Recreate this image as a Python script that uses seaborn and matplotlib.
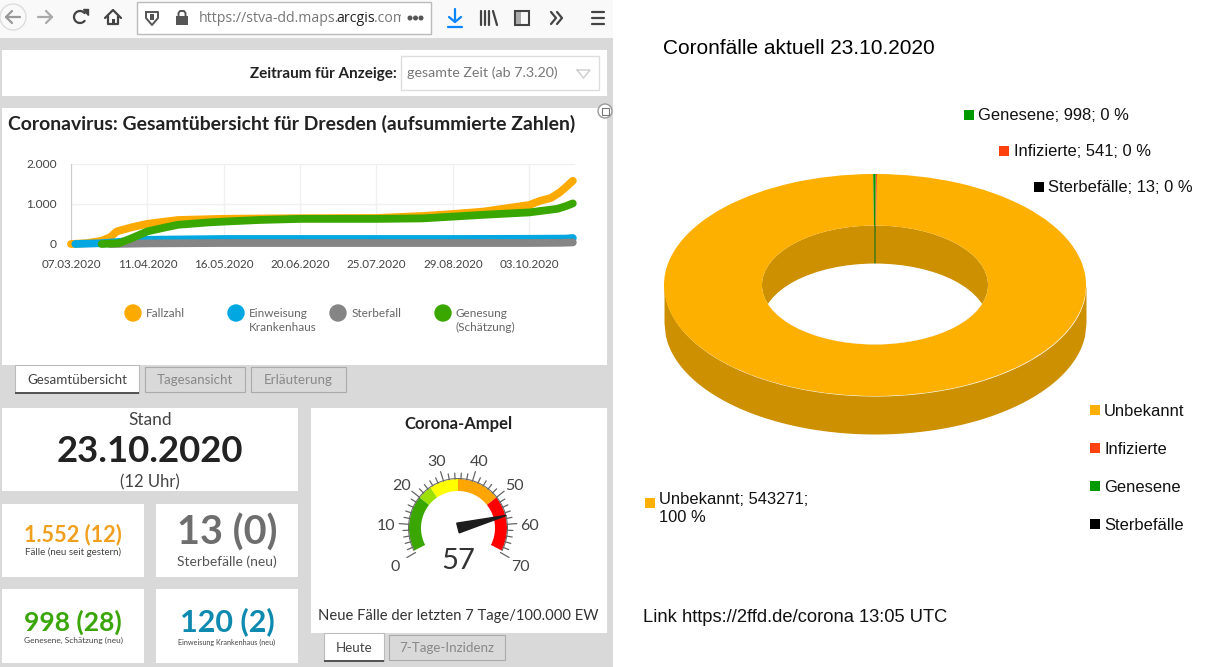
"""Screenshot of the Dresden corona dashboard next to a 3D donut of the case split."""

import numpy as np
import pandas as pd
import matplotlib.pyplot as plt
from matplotlib.patches import Circle, Ellipse, Polygon, Rectangle
import seaborn as sns

WIDTH, HEIGHT = 1209, 667

# line chart
FALL_DATES = ["2020-03-07", "2020-03-14", "2020-03-21", "2020-03-25", "2020-03-28", "2020-04-04",
              "2020-04-11", "2020-04-25", "2020-05-16", "2020-06-20", "2020-07-25", "2020-08-15",
              "2020-08-29", "2020-09-12", "2020-10-03", "2020-10-08", "2020-10-13", "2020-10-17",
              "2020-10-20", "2020-10-23"]
FALL_VALUES = [0, 20, 80, 170, 315, 420, 505, 600, 630, 645, 650, 700, 750, 810, 975, 1080, 1150, 1290, 1430, 1580]
EINWEISUNG_DATES = ["2020-03-09", "2020-03-21", "2020-04-11", "2020-05-16", "2020-08-29", "2020-10-03",
                    "2020-10-20", "2020-10-23"]
EINWEISUNG_VALUES = [0, 20, 105, 125, 125, 130, 135, 150]
STERBE_DATES = ["2020-03-25", "2020-04-11", "2020-05-16", "2020-08-29", "2020-10-03", "2020-10-18", "2020-10-23"]
STERBE_VALUES = [0, 15, 25, 25, 25, 30, 40]
GENESUNG_DATES = ["2020-03-21", "2020-03-29", "2020-04-04", "2020-04-11", "2020-04-18", "2020-04-25",
                  "2020-05-09", "2020-05-16", "2020-06-01", "2020-06-20", "2020-07-25", "2020-08-15",
                  "2020-08-29", "2020-09-12", "2020-10-03", "2020-10-16", "2020-10-20", "2020-10-23"]
GENESUNG_VALUES = [0, 20, 150, 315, 400, 480, 540, 560, 600, 628, 628, 640, 685, 730, 790, 880, 950, 1015]
DATE_TICKS = ["2020-03-07", "2020-04-11", "2020-05-16", "2020-06-20", "2020-07-25", "2020-08-29", "2020-10-03"]
Y_TICKS = [0, 1000, 2000]
Y_TICK_LABELS = ["0", "1.000", "2.000"]

# gauge
GAUGE_STOPS = [0, 20, 25, 35, 50, 70]
GAUGE_COLORS = ["#3aa600", "#9be000", "#ffff00", "#ffa500", "#ff0000"]
GAUGE_LABELS = [0, 10, 20, 30, 40, 50, 60, 70]
GAUGE_VALUE = 57

# donut
DONUT_NAMES = ["Unbekannt", "Infizierte", "Genesene", "Sterbefälle"]
DONUT_VALUES = [543271, 541, 998, 13]
DONUT_COLORS = ["#fdb000", "#ff420e", "#009900", "#000000"]

PAGE_GREY = "#d9d9d9"
DARK = "#333333"
UI_FONT = "Lato"
CHART_FONT = "Liberation Sans"


def box(ax, x0, y0, x1, y1, color="white", edge="none", lw=1.0, zorder=1):
    ax.add_patch(Rectangle((x0, y0), x1 - x0, y1 - y0, facecolor=color, edgecolor=edge, linewidth=lw, zorder=zorder))


def label(ax, x, y, text, size=10, color=DARK, ha="left", weight="normal", family=UI_FONT, **kwargs):
    return ax.text(x, y, text, fontsize=size, color=color, ha=ha, va="center",
                   fontweight=weight, family=family, zorder=5, **kwargs)


def stroke(ax, xs, ys, color="#444444", lw=1.6):
    ax.plot(xs, ys, color=color, linewidth=lw, solid_capstyle="round", solid_joinstyle="round", zorder=4)


def draw_toolbar(ax):
    box(ax, 0, 0, 613, 38, color="#f9f9fa")
    ax.add_patch(Circle((13, 17), 13, facecolor="#f9f9fa", edgecolor="#dddddd", linewidth=1, zorder=2))
    stroke(ax, [20, 6], [17, 17], "#999999")
    stroke(ax, [12, 6, 12], [11, 17, 23], "#999999")
    stroke(ax, [38, 52], [17, 17], "#aaaaaa")
    stroke(ax, [46, 52, 46], [11, 17, 23], "#aaaaaa")
    # reload
    angles = np.radians(np.linspace(40, 320, 30))
    stroke(ax, 80 + 6 * np.cos(angles), 17 - 6 * np.sin(angles))
    ax.add_patch(Polygon([[83, 9], [88, 9], [88, 15]], color="#444444", zorder=4))
    # home
    stroke(ax, [105, 113, 121], [18, 10, 18])
    stroke(ax, [108, 108, 118, 118], [16, 24, 24, 16])
    box(ax, 112, 19, 115, 24, color="#444444", zorder=4)

    box(ax, 137, 2, 431, 34, color="white", edge="#bbbbbb", zorder=2)
    stroke(ax, [146, 158, 158, 152, 146, 146], [12, 12, 18, 25, 18, 12], "#555555", 1.4)
    box(ax, 150, 14, 154, 20, color="#555555", zorder=4)
    box(ax, 166.5, 6, 167, 29, color="#dddddd", zorder=3)
    box(ax, 176, 16, 188, 25, color="#555555", zorder=4)
    stroke(ax, [178.5, 178.5, 180, 184, 185.5, 185.5], [16, 13, 11, 11, 13, 16], "#555555", 1.4)

    label(ax, 199, 18, "https://stva-dd.maps.", 10.2, "#777777", family="Open Sans")
    label(ax, 336, 18, "arcgis", 10.2, "#222222", family="Open Sans")
    tail = label(ax, 374, 18, ".com", 10.2, "#777777", family="Open Sans")
    tail.set_clip_on(True)
    tail.set_clip_path(Rectangle((374, 0), 27, 38, transform=ax.transData))
    for x in [410, 415.5, 421]:
        ax.add_patch(Circle((x, 18), 1.8, color="#555555", zorder=4))

    stroke(ax, [455, 455], [9, 22], "#0a84ff")
    stroke(ax, [449, 455, 461], [17, 22, 17], "#0a84ff")
    stroke(ax, [448, 462], [27, 27], "#0a84ff")
    for x in [481, 485, 489]:
        stroke(ax, [x, x], [11, 25])
    stroke(ax, [493, 497], [11, 25])
    ax.add_patch(Rectangle((515, 11), 14, 14, fill=False, edgecolor="#444444", linewidth=1.5, zorder=4))
    box(ax, 516, 12, 521, 24, color="#aaaaaa", zorder=4)
    stroke(ax, [551, 556, 551], [12, 18, 24])
    stroke(ax, [557, 562, 557], [12, 18, 24])
    box(ax, 575.5, 0, 576, 36, color="#e2e2e2", zorder=3)
    for y in [12, 18, 24]:
        stroke(ax, [592, 604], [y, y])


def draw_panels(ax):
    box(ax, 0, 38, 613, HEIGHT, color=PAGE_GREY, zorder=0)
    panels = [(2, 50, 607, 96), (2, 108, 607, 365), (2, 408, 298, 491), (2, 504, 144, 577),
              (156, 504, 298, 577), (2, 589, 144, 663), (156, 589, 298, 663), (311, 408, 607, 633)]
    for x0, y0, x1, y1 in panels:
        box(ax, x0, y0, x1, y1)

    label(ax, 397, 74, "Zeitraum für Anzeige:", 11, "#222222", ha="right", weight="bold")
    box(ax, 401, 56, 599, 90, edge="#dddddd", zorder=2)
    label(ax, 407, 73, "gesamte Zeit (ab 7.3.20)", 10.3, "#777777")
    ax.plot([577, 590, 583.5, 577], [70, 70, 78, 70], color="#cccccc", linewidth=1, zorder=4)
    # expand button in the panel corner
    ax.add_patch(Circle((605, 111), 7, facecolor="white", edgecolor="#999999", linewidth=1, zorder=3))
    ax.add_patch(Rectangle((601.5, 107.5), 7, 7, fill=False, edgecolor="#777777", linewidth=0.8, zorder=4))

    label(ax, 8, 124, "Coronavirus: Gesamtübersicht für Dresden (aufsummierte Zahlen)", 13.95, "#222222", weight="bold")

    # legend of the line chart
    legend_items = [(133, 146, "Fallzahl", "#fdaa00"), (236, 249, "Einweisung\nKrankenhaus", "#00a7e1"),
                    (338, 352, "Sterbefall", "#858585"), (443, 456, "Genesung\n(Schätzung)", "#3aa600")]
    for dot_x, text_x, text, color in legend_items:
        ax.add_patch(Circle((dot_x, 313), 8, color=color, zorder=3))
        ax.text(text_x, 308, text, fontsize=8.5, color="#666666", va="top", family=UI_FONT, linespacing=1.3, zorder=5)

    # tabs
    for x0, x1, y1, text, active in [(15, 139, 393, "Gesamtübersicht", True), (145, 245, 392, "Tagesansicht", False),
                                     (251, 346, 392, "Erläuterung", False), (324, 384, 661, "Heute", True),
                                     (389, 505, 660, "7-Tage-Inzidenz", False)]:
        y0 = 633 if x0 > 300 else 365
        box(ax, x0, y0 + (0 if active else 2), x1, y1, color="white" if active else PAGE_GREY,
            edge="#bbbbbb" if active else "#aaaaaa", lw=0.8, zorder=2)
        if active:
            box(ax, x0, y1 - 1, x1, y1 + 1, color="#555555", zorder=3)
        label(ax, (x0 + x1) / 2, y0 + 15, text, 9.6, "#444444" if active else "#888888", ha="center")

    # number cards
    label(ax, 150, 420, "Stand", 12.5, "#444444", ha="center")
    label(ax, 150, 451, "23.10.2020", 26.3, "#222222", ha="center", weight="bold")
    label(ax, 150, 482, "(12 Uhr)", 12, "#444444", ha="center")
    label(ax, 73, 535, "1.552 (12)", 15.6, "#f0a01e", ha="center", weight="bold")
    label(ax, 73, 552, "Fälle (neu seit gestern)", 7, "#444444", ha="center")
    label(ax, 227, 533, "13 (0)", 28.5, "#6e6e6e", ha="center", weight="bold")
    label(ax, 227, 562, "Sterbefälle (neu)", 10, "#555555", ha="center")
    label(ax, 73, 622, "998 (28)", 19, "#3aa60a", ha="center", weight="bold")
    label(ax, 73, 640, "Genesene, Schätzung (neu)", 6, "#444444", ha="center")
    label(ax, 227, 622, "120 (2)", 22, "#0e8ab0", ha="center", weight="bold")
    label(ax, 227, 642, "Einweisung Krankenhaus (neu)", 5.2, "#444444", ha="center")


def gauge_angle(value):
    return np.radians(210 - np.asarray(value, dtype=float) / 70 * 240)


def draw_gauge(ax):
    cx, cy = 458, 528
    label(ax, 458, 424, "Corona-Ampel", 12, "#222222", ha="center", weight="bold")
    for start, end, color in zip(GAUGE_STOPS[:-1], GAUGE_STOPS[1:], GAUGE_COLORS):
        t = gauge_angle(np.linspace(max(start, 0.8), min(end, 69.2), 30))
        xs = np.r_[cx + 49 * np.cos(t), cx + 37 * np.cos(t[::-1])]
        ys = np.r_[cy - 49 * np.sin(t), cy - 37 * np.sin(t[::-1])]
        ax.add_patch(Polygon(np.c_[xs, ys], facecolor=color, edgecolor="none", zorder=3))
    t = gauge_angle(np.linspace(0.8, 69.2, 80))
    ax.plot(cx + 49.5 * np.cos(t), cy - 49.5 * np.sin(t), color="#666666", linewidth=0.7, zorder=4)
    for tick in range(0, 71, 2):
        a = gauge_angle(tick)
        outer = 59 if tick % 10 == 0 else 55
        ax.plot([cx + 49 * np.cos(a), cx + outer * np.cos(a)], [cy - 49 * np.sin(a), cy - outer * np.sin(a)],
                color="#666666", linewidth=0.9, zorder=3)
    for value in GAUGE_LABELS:
        a = gauge_angle(value)
        label(ax, cx + 72 * np.cos(a), cy + 3 - 72 * np.sin(a), str(value), 11.5, "#444444", ha="center")
    a = gauge_angle(GAUGE_VALUE)
    normal = a + np.pi / 2
    needle = [[cx + 50 * np.cos(a), cy - 50 * np.sin(a)],
              [cx + 5 * np.cos(normal), cy - 5 * np.sin(normal)],
              [cx - 5 * np.cos(normal), cy + 5 * np.sin(normal)]]
    ax.add_patch(Polygon(needle, color="#1c1c1c", zorder=5))
    label(ax, 458, 561, str(GAUGE_VALUE), 21, "#333333", ha="center")
    label(ax, 458, 616, "Neue Fälle der letzten 7 Tage/100.000 EW", 10.6, "#333333", ha="center")


def draw_line_chart(fig):
    ax = fig.add_axes([71 / WIDTH, 1 - 244 / HEIGHT, 504 / WIDTH, 80 / HEIGHT], facecolor="none", zorder=2)
    series = [(FALL_DATES, FALL_VALUES, "#fdaa00"),
              (EINWEISUNG_DATES, EINWEISUNG_VALUES, "#00a7e1"),
              (STERBE_DATES, STERBE_VALUES, "#858585"),
              (GENESUNG_DATES, GENESUNG_VALUES, "#3aa600")]
    for dates, values, color in series:
        frame = pd.DataFrame({"datum": pd.to_datetime(dates), "anzahl": values})
        sns.lineplot(data=frame, x="datum", y="anzahl", color=color, linewidth=5.6, ax=ax,
                     solid_capstyle="round", clip_on=False, zorder=3)
    ticks = pd.to_datetime(DATE_TICKS)
    ax.set_xlim(pd.Timestamp("2020-03-07"), pd.Timestamp("2020-03-07") + pd.Timedelta(days=231))
    ax.set_ylim(0, 2000)
    ax.set_xticks(ticks)
    ax.set_xticklabels([d.strftime("%d.%m.%Y") for d in ticks], fontsize=8.4, color="#444444", family=UI_FONT)
    ax.set_yticks(Y_TICKS)
    ax.set_yticklabels(Y_TICK_LABELS, fontsize=8.6, color="#444444", family=UI_FONT)
    ax.set_xlabel("")
    ax.set_ylabel("")
    ax.tick_params(axis="x", length=3, pad=8, color="#cccccc")
    ax.tick_params(axis="y", length=6, pad=4, color="#cccccc")
    ax.grid(True, color="#f0f0f0", linewidth=1)
    ax.set_axisbelow(True)
    sns.despine(ax=ax, top=True, right=True, bottom=True)
    ax.spines["left"].set_color("#cccccc")
    ax.spines["left"].set_linewidth(0.8)


def draw_donut(fig):
    rx, ry, depth = 211, 111, 38
    inner = 113 / 211
    ax = fig.add_axes([(875 - rx) / WIDTH, 1 - (285 + ry + depth) / HEIGHT, 2 * rx / WIDTH, (2 * ry + depth) / HEIGHT],
                      facecolor="none", zorder=2)
    drop = depth / ry
    wall = "#cc9000"
    xs = np.linspace(-1, 1, 300)
    lower = -np.sqrt(1 - xs ** 2)
    ax.fill_between(xs, lower - drop, lower, color=wall, linewidth=0, zorder=1)
    ax.add_patch(Ellipse((0, 0), 2 * inner, 2 * inner, color=wall, linewidth=0, zorder=1))
    ax.pie(DONUT_VALUES, colors=DONUT_COLORS, startangle=90.5, radius=1, wedgeprops={"width": 1 - inner, "linewidth": 0})
    for wedge in ax.patches:
        wedge.set_zorder(2)
    ax.set_aspect("auto")
    ax.set_xlim(-1, 1)
    ax.set_ylim(-1 - drop, 1)
    # hole: inner ellipse moved down by the depth, cut by the inner rim
    rim = Ellipse((0, 0), 2 * inner, 2 * inner, transform=ax.transData)
    hole = Ellipse((0, -drop), 2 * inner, 2 * inner, color="white", linewidth=0, zorder=3)
    ax.add_patch(hole)
    hole.set_clip_path(rim)
    ax.plot([0, 0], [inner, inner - drop], color="#4f7a10", linewidth=1.2, zorder=2.5)


def draw_donut_texts(ax):
    label(ax, 663, 48, "Coronfälle aktuell 23.10.2020", 15.05, "black", family=CHART_FONT)
    for sq_x, text_x, y, text, color in [(964, 978, 115, "Genesene; 998; 0 %", DONUT_COLORS[2]),
                                         (999, 1014, 151, "Infizierte; 541; 0 %", DONUT_COLORS[1]),
                                         (1034, 1048, 187, "Sterbefälle; 13; 0 %", DONUT_COLORS[3])]:
        box(ax, sq_x, y - 5, sq_x + 10, y + 5, color=color)
        label(ax, text_x, y + 0.5, text, 11.9, "#111111", family=CHART_FONT)
    for name, y in zip(["Unbekannt", "Infizierte", "Genesene", "Sterbefälle"], [410, 448, 486, 524]):
        box(ax, 1090, y - 5, 1100, y + 5, color=DONUT_COLORS[DONUT_NAMES.index(name)])
        label(ax, 1104, y + 1.5, name, 11.9, "#111111", family=CHART_FONT)
    box(ax, 645, 498, 655, 508, color=DONUT_COLORS[0])
    label(ax, 659, 499, "Unbekannt; 543271;", 11.9, "#111111", family=CHART_FONT)
    label(ax, 659, 518, "100 %", 11.9, "#111111", family=CHART_FONT)
    label(ax, 643, 617, "Link https://2ffd.de/corona 13:05 UTC", 13.25, "#111111", family=CHART_FONT)


def main():
    sns.set_theme(style="white")
    plt.rcParams["font.family"] = [UI_FONT, "DejaVu Sans"]

    fig = plt.figure(figsize=(WIDTH / 100, HEIGHT / 100), dpi=100, facecolor="white")
    page = fig.add_axes([0, 0, 1, 1], zorder=1)
    page.set_xlim(0, WIDTH)
    page.set_ylim(HEIGHT, 0)
    page.axis("off")

    draw_panels(page)
    draw_toolbar(page)
    draw_gauge(page)
    draw_donut_texts(page)
    draw_line_chart(fig)
    draw_donut(fig)

    fig.savefig("out.png", dpi=100)
    plt.close(fig)


if __name__ == "__main__":
    main()
